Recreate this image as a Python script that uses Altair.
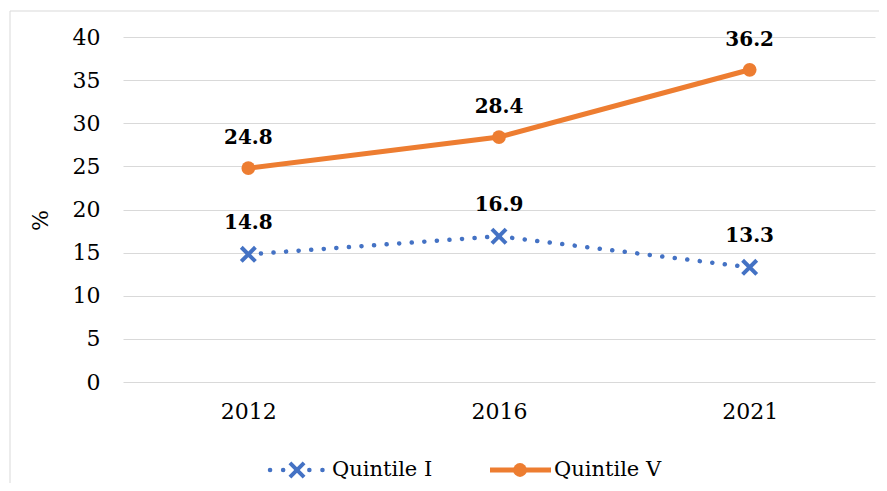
import altair as alt
import pandas as pd

years = ["2012", "2016", "2021"]
quintile_i = [14.8, 16.9, 13.3]
quintile_v = [24.8, 28.4, 36.2]
y_ticks = [0, 5, 10, 15, 20, 25, 30, 35, 40]
series_names = ["Quintile I", "Quintile V"]

BLUE = "#4472C4"
ORANGE = "#ED7D31"
GRID = "#d9d9d9"
FONT = "DejaVu Serif"
FS = 22

df1 = pd.DataFrame({"year": years, "value": quintile_i})
df5 = pd.DataFrame({"year": years, "value": quintile_v})
dummy = pd.DataFrame({"a": [0]})

x = alt.X("year:N", sort=years, scale=alt.Scale(padding=0.5),
          axis=alt.Axis(title=None, labelAngle=0, labelFont=FONT, labelFontSize=FS,
                        labelColor="#000", labelPadding=19, ticks=False, domain=False, grid=False))
y = alt.Y("value:Q", scale=alt.Scale(domain=[0, 40], nice=False),
          axis=alt.Axis(values=y_ticks, title="%", titleFont=FONT, titleFontSize=FS,
                        titleFontWeight="normal", titleColor="#000", titleAngle=-90,
                        titleX=-83, titleY=183, titleAlign="center", titleBaseline="middle",
                        labelFont=FONT, labelFontSize=FS, labelColor="#000", labelPadding=23,
                        grid=True, gridColor=GRID, gridWidth=1, domain=False, ticks=False))

base1 = alt.Chart(df1).encode(x=x, y=y)
base5 = alt.Chart(df5).encode(x=x, y=y)

xshape = "M-1,-1L1,1M1,-1L-1,1"

line1 = base1.mark_line(color=BLUE, strokeWidth=4.5, strokeDash=[0.1, 12.5], strokeCap="round")
pts1 = base1.mark_point(shape=xshape, filled=False, strokeWidth=4, size=200, color=BLUE, opacity=1)
lab1 = base1.mark_text(dy=-31, font=FONT, fontWeight="bold", fontSize=20, color="#000").encode(
    text=alt.Text("value:Q", format=".1f"))

line5 = base5.mark_line(color=ORANGE, strokeWidth=5)
pts5 = base5.mark_point(shape="circle", filled=True, size=190, color=ORANGE, opacity=1)
lab5 = base5.mark_text(dy=-30, font=FONT, fontWeight="bold", fontSize=20, color="#000").encode(
    text=alt.Text("value:Q", format=".1f"))

# chart border (left and top edges visible)
border_left = alt.Chart(dummy).mark_rule(color=GRID, strokeWidth=1).encode(
    x=alt.value(-113), y=alt.value(-26), y2=alt.value(460))
border_top = alt.Chart(dummy).mark_rule(color=GRID, strokeWidth=1).encode(
    x=alt.value(-113), x2=alt.value(760), y=alt.value(-26))

# manual legend
leg_y = 433
leg1_line = alt.Chart(dummy).mark_rule(color=BLUE, strokeWidth=4.5, strokeDash=[0.1, 13],
                                       strokeCap="round").encode(
    x=alt.value(147), x2=alt.value(201), y=alt.value(leg_y))
leg1_pt = alt.Chart(dummy).mark_point(shape=xshape, filled=False, strokeWidth=4, size=200,
                                      color=BLUE, opacity=1).encode(
    x=alt.value(174), y=alt.value(leg_y))
leg1_txt = alt.Chart(pd.DataFrame({"t": [series_names[0]]})).mark_text(
    align="left", baseline="middle", font=FONT, fontSize=21, color="#000").encode(
    x=alt.value(209), y=alt.value(leg_y), text="t:N")
leg5_line = alt.Chart(dummy).mark_rule(color=ORANGE, strokeWidth=5).encode(
    x=alt.value(367), x2=alt.value(428), y=alt.value(leg_y))
leg5_pt = alt.Chart(dummy).mark_point(shape="circle", filled=True, size=190, color=ORANGE,
                                      opacity=1).encode(
    x=alt.value(397), y=alt.value(leg_y))
leg5_txt = alt.Chart(pd.DataFrame({"t": [series_names[1]]})).mark_text(
    align="left", baseline="middle", font=FONT, fontSize=21, color="#000").encode(
    x=alt.value(431), y=alt.value(leg_y), text="t:N")

chart = alt.layer(
    border_left, border_top,
    line1, line5, pts1, pts5, lab1, lab5,
    leg1_line, leg1_pt, leg1_txt, leg5_line, leg5_pt, leg5_txt,
).properties(
    width=752, height=345,
    autosize=alt.AutoSizeParams(type="none"),
    padding={"left": 115, "top": 29, "right": 4, "bottom": 101},
    background="white",
).configure_view(stroke=None)

chart.save("out.html", embed_options={"renderer": "svg", "actions": False})
